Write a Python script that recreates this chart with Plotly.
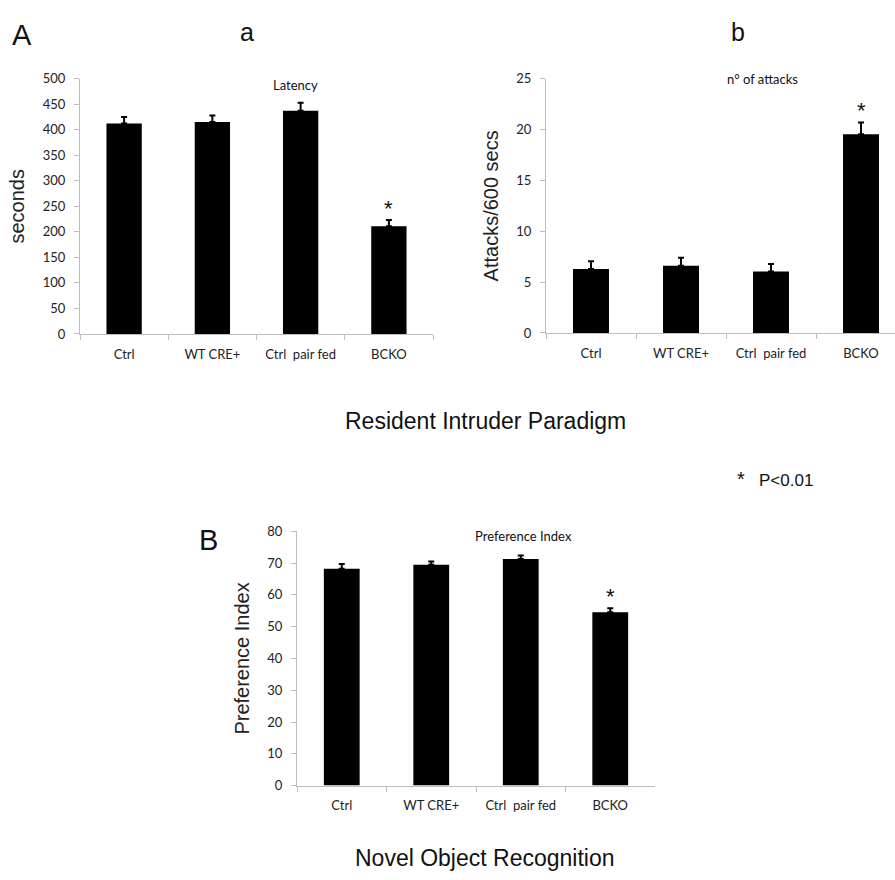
import plotly.graph_objects as go

W, H = 895, 880

categories = ["Ctrl", "WT CRE+", "Ctrl\u00a0 pair fed", "BCKO"]

latency_values = [412, 415, 437, 211]
latency_errors = [13, 13, 16, 12]

attacks_values = [6.3, 6.6, 6.05, 19.55]
attacks_errors = [0.75, 0.8, 0.73, 1.15]

preference_values = [68.2, 69.5, 71.3, 54.5]
preference_errors = [1.5, 1.0, 1.1, 1.3]

latency_ticks = [0, 50, 100, 150, 200, 250, 300, 350, 400, 450, 500]
attacks_ticks = [0, 5, 10, 15, 20, 25]
preference_ticks = [0, 10, 20, 30, 40, 50, 60, 70, 80]

TICK_FONT = dict(family="Lato, Open Sans, sans-serif", size=13, color="#222222")
TITLE_FONT = dict(family="Liberation Sans, Arial, sans-serif", size=20, color="#222222")
AXIS_COLOR = "#bdbdbd"


def px_x(p):
    return p / W


def px_y(p):
    return 1 - p / H


def bar(values, errors, xa, ya):
    return go.Bar(
        x=categories, y=values, xaxis=xa, yaxis=ya,
        marker=dict(color="black", line=dict(width=0)),
        error_y=dict(type="data", array=errors, arrayminus=[0] * len(errors),
                     symmetric=False, color="black", thickness=2, width=3),
        showlegend=False, hoverinfo="skip",
    )


fig = go.Figure()
fig.add_trace(bar(latency_values, latency_errors, "x", "y"))
fig.add_trace(bar(attacks_values, attacks_errors, "x2", "y2"))
fig.add_trace(bar(preference_values, preference_errors, "x3", "y3"))


def xaxis(domain, rng, anchor):
    return dict(
        domain=domain, range=rng, anchor=anchor, type="category",
        showline=True, linecolor=AXIS_COLOR, linewidth=1,
        ticks="outside", tickson="boundaries", ticklen=5, tickcolor=AXIS_COLOR,
        showgrid=False, zeroline=False, tickfont=TICK_FONT,
        ticklabelstandoff=8, fixedrange=True,
    )


def yaxis(domain, rng, ticks, anchor, title):
    return dict(
        domain=domain, range=rng, anchor=anchor,
        tickmode="array", tickvals=ticks,
        showline=True, linecolor=AXIS_COLOR, linewidth=1,
        ticks="outside", ticklen=5, tickcolor=AXIS_COLOR,
        showgrid=False, zeroline=False, tickfont=TICK_FONT,
        ticklabelstandoff=6,
        title=dict(text=title, font=TITLE_FONT, standoff=12), fixedrange=True,
    )


fig.update_layout(
    width=W, height=H,
    margin=dict(l=0, r=0, t=0, b=0),
    paper_bgcolor="white", plot_bgcolor="white",
    bargap=0.6,
    xaxis=xaxis([px_x(80), px_x(433)], [-0.5, 3.5], "y"),
    yaxis=yaxis([px_y(332), px_y(72)], [0, 500], latency_ticks, "x", "seconds"),
    xaxis2=xaxis([px_x(546), 1.0], [-0.5, -0.5 + (W - 546) / 90.0], "y2"),
    yaxis2=yaxis([px_y(331), px_y(72)], [0, 25], attacks_ticks, "x2", "Attacks/600 secs"),
    xaxis3=xaxis([px_x(297), px_x(655)], [-0.5, 3.5], "y3"),
    yaxis3=yaxis([px_y(792), px_y(533)], [0, 80], preference_ticks, "x3", "Preference Index"),
)

ann = []


def paper_text(text, x, y, size, family="Liberation Sans, Arial, sans-serif"):
    ann.append(dict(text=text, x=px_x(x), y=px_y(y), xref="paper", yref="paper",
                    xanchor="center", yanchor="middle", showarrow=False,
                    font=dict(family=family, size=size, color="#111111")))


CAL = "Lato, Open Sans, sans-serif"
paper_text("A", 22, 28, 29)
paper_text("a", 247, 24, 25)
paper_text("b", 738, 24, 25)
paper_text("B", 208, 542, 29)
paper_text("Latency", 295, 78, 13, CAL)
paper_text("n° of attacks", 762, 72, 13, CAL)
paper_text("Preference Index", 523, 538, 13, CAL)
paper_text("Resident Intruder Paradigm", 485, 421, 23)
paper_text("Novel Object Recognition", 485, 866, 23)
paper_text("*", 741, 480, 20)
paper_text("P<0.01", 786, 481, 17)

# significance stars above the BCKO error bars
for xa, ya, vals, errs in [("x", "y", latency_values, latency_errors),
                           ("x2", "y2", attacks_values, attacks_errors),
                           ("x3", "y3", preference_values, preference_errors)]:
    ann.append(dict(text="*", x=categories[3], y=vals[3] + errs[3], xref=xa, yref=ya,
                    xanchor="center", yanchor="bottom", yshift=-3, showarrow=False,
                    font=dict(family="Liberation Sans, Arial, sans-serif", size=22, color="#111111")))

fig.update_layout(annotations=ann)

fig.write_html(
    "out.html",
    config={"displayModeBar": False},
    post_script="document.body.style.margin='0';document.body.style.overflow='hidden';",
)
